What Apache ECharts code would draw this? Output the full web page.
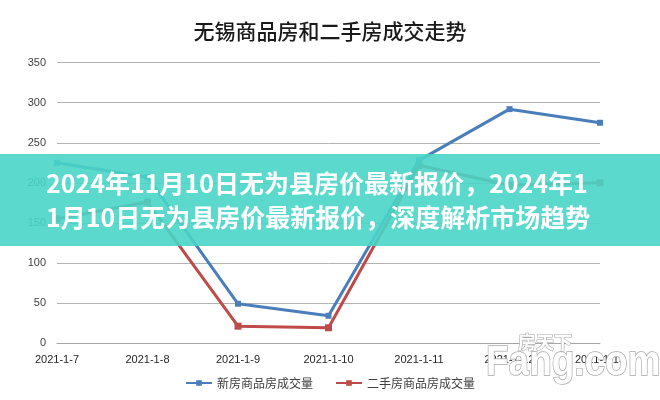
<!DOCTYPE html>
<html>
<head>
<meta charset="utf-8">
<script src="https://cdn.jsdelivr.net/npm/echarts@6/dist/echarts.min.js"></script>
<style>
html,body{margin:0;padding:0;background:#fff;}
#c{width:660px;height:400px;}
</style>
</head>
<body>
<div id="c"></div>
<script>
var categories = ['2021-1-7', '2021-1-8', '2021-1-9', '2021-1-10', '2021-1-11', '2021-1-12', '2021-1-13'];
var newHouse = [225, 207, 49, 34, 228, 292, 275];
var secondHand = [155, 176, 21, 19, 222, 197, 200];
var yTicks = [0, 50, 100, 150, 200, 250, 300, 350];
var seriesNames = ['新房商品房成交量', '二手房商品房成交量'];
var chartTitle = '无锡商品房和二手房成交走势';
var bannerText = '2024年11月10日无为县房价最新报价，2024年1\n1月10日无为县房价最新报价，深度解析市场趋势';

var chart = echarts.init(document.getElementById('c'));
chart.setOption({
  animation: false,
  title: {
    text: chartTitle,
    left: 'center',
    top: 16,
    textStyle: { fontFamily: 'Noto Sans CJK SC', fontSize: 21, fontWeight: 500, color: '#1a1a1a' }
  },
  legend: {
    left: 'center',
    top: 372,
    itemWidth: 26,
    itemHeight: 7,
    itemGap: 22,
    textStyle: { fontFamily: 'Noto Sans CJK SC', fontSize: 12, color: '#404040' },
    data: seriesNames
  },
  grid: { left: 57, right: 60, top: 62.7, bottom: 57 },
  xAxis: {
    type: 'category',
    data: categories,
    boundaryGap: false,
    axisLine: { lineStyle: { color: '#a6a6a6', width: 1 } },
    axisTick: { show: false },
    axisLabel: { fontFamily: 'Liberation Sans', fontSize: 11, color: '#262626', margin: 11 }
  },
  yAxis: {
    type: 'value',
    min: yTicks[0],
    max: yTicks[yTicks.length - 1],
    interval: 50,
    axisLine: { show: false },
    axisTick: { show: false },
    axisLabel: { fontFamily: 'Liberation Sans', fontSize: 11, color: '#404040', margin: 11 },
    splitLine: { lineStyle: { color: '#b3b3b3', width: 1 } }
  },
  series: [
    {
      name: seriesNames[0],
      type: 'line',
      data: newHouse,
      symbol: 'rect',
      symbolSize: 6,
      showAllSymbol: true,
      lineStyle: { color: '#4a7ebb', width: 3 },
      itemStyle: { color: '#4a7ebb' },
      z: 3
    },
    {
      name: seriesNames[1],
      type: 'line',
      data: secondHand,
      symbol: 'rect',
      symbolSize: 7,
      showAllSymbol: true,
      lineStyle: { color: '#be4b48', width: 3 },
      itemStyle: { color: '#be4b48' },
      z: 2
    }
  ],
  graphic: [
    {
      type: 'rect',
      z: 100,
      shape: { x: 0, y: 154, width: 660, height: 92 },
      style: { fill: 'rgba(72,213,198,0.9)' }
    },
    {
      type: 'text',
      z: 101,
      x: 46,
      y: 166,
      style: {
        text: bannerText,
        fill: '#ffffff',
        fontFamily: 'Noto Sans CJK SC',
        fontWeight: 'bold',
        fontSize: 25,
        lineHeight: 34,
        textVerticalAlign: 'top'
      }
    },
    {
      type: 'text',
      z: 102,
      x: 518,
      y: 333,
      style: {
        text: '房天下',
        fill: '#ffffff',
        fontFamily: 'Noto Sans CJK SC',
        fontWeight: 'bold',
        fontSize: 18,
        stroke: '#a8a8a8',
        lineWidth: 1.2,
        shadowColor: 'rgba(0,0,0,0.45)',
        shadowBlur: 4
      }
    },
    {
      type: 'text',
      z: 102,
      x: 486,
      y: 342,
      scaleX: 0.88,
      style: {
        text: 'Fang.com',
        fill: '#ffffff',
        fontFamily: 'Liberation Sans',
        fontWeight: 'bold',
        fontSize: 42,
        stroke: '#a8a8a8',
        lineWidth: 1.5,
        shadowColor: 'rgba(0,0,0,0.45)',
        shadowBlur: 4
      }
    }
  ]
});
</script>
</body>
</html>
